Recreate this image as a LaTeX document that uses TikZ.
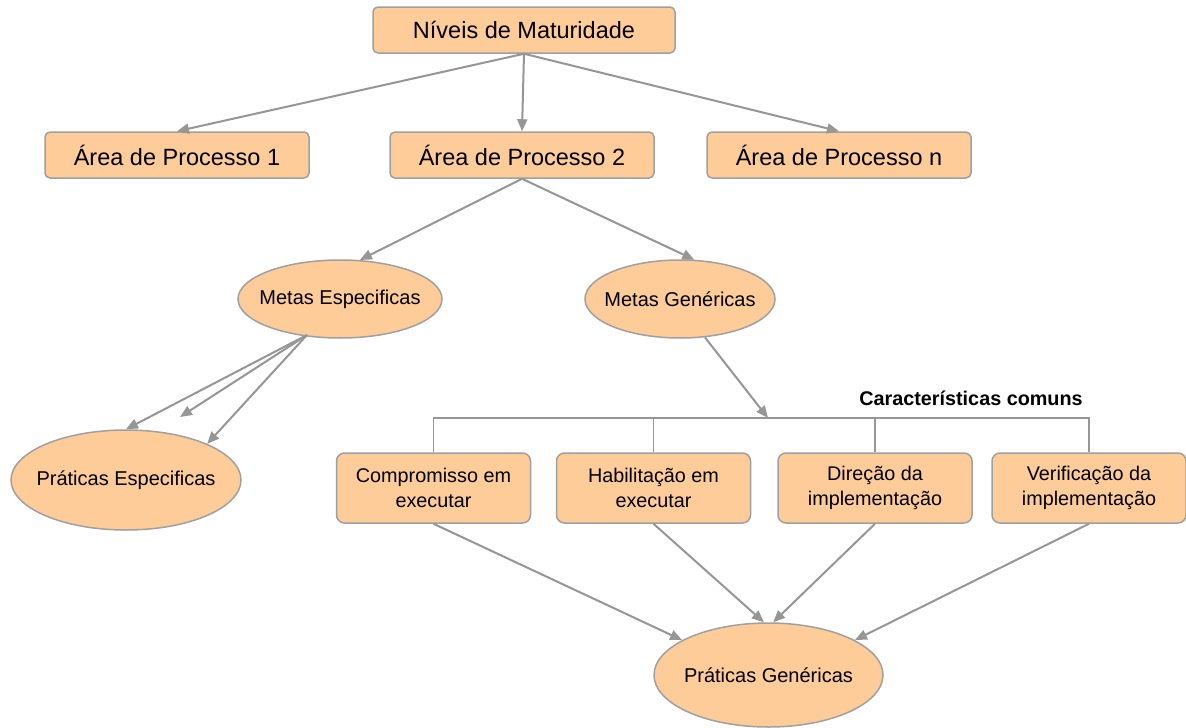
\documentclass[tikz,border=0pt]{standalone}
\usepackage{fontspec}
\setmainfont{Liberation Sans}
\usetikzlibrary{arrows.meta,shapes.geometric}
\definecolor{boxfill}{RGB}{253,204,153}
\definecolor{boxline}{RGB}{160,160,160}
\definecolor{arrowgray}{RGB}{150,150,150}
\tikzset{
  topbox/.style={draw=boxline, line width=1.5pt, fill=boxfill, rounded corners=5pt,
    minimum width=264pt, minimum height=46pt, inner sep=0pt,
    font=\fontsize{23.5}{28}\selectfont},
  ellbox/.style={ellipse, draw=boxline, line width=1.5pt, fill=boxfill,
    inner xsep=-20pt, inner ysep=0pt,
    font=\fontsize{20}{24}\selectfont},
  featbox/.style={draw=boxline, line width=1.5pt, fill=boxfill, rounded corners=8pt,
    minimum width=194pt, minimum height=70pt, inner sep=0pt, align=center,
    font=\fontsize{19.8}{25}\selectfont},
  conn/.style={draw=arrowgray, line width=2pt,
    -{Triangle[length=12pt,width=10pt]}},
  bracket/.style={draw=arrowgray, line width=1.5pt},
}
\begin{document}
\begin{tikzpicture}[x=1pt,y=-1pt]
\path[fill=white] (0,0) rectangle (1186,728);
\useasboundingbox (0,0) rectangle (1186,728);

\node[topbox, minimum width=302pt] (niv) at (524,30) {Níveis de Maturidade};
\node[topbox] (a1) at (177,155) {Área de Processo 1};
\node[topbox] (a2) at (522,155) {Área de Processo 2};
\node[topbox] (an) at (839,155) {Área de Processo n};

\node[ellbox, minimum width=204pt, minimum height=78pt] (me) at (340,299) {Metas Especificas};
\node[ellbox, minimum width=190pt, minimum height=78pt] (mg) at (680,299) {Metas Genéricas};
\node[ellbox, minimum width=230pt, minimum height=100pt] (pe) at (126,480) {Práticas Especificas};

\node[featbox] (c1) at (433.5,488) {Compromisso em\\executar};
\node[featbox] (c2) at (653.5,488) {Habilitação em\\executar};
\node[featbox] (c3) at (875,488) {Direção da\\implementação};
\node[featbox] (c4) at (1089,488) {Verificação da\\implementação};

\node[ellbox, minimum width=229pt, minimum height=104pt] (pg) at (768.5,675) {Práticas Genéricas};

\node[font=\fontsize{19.8}{24}\selectfont\bfseries] (lab) at (971,398) {Características comuns};

\coordinate (bar) at (768,418);
\coordinate (meo) at (307,335);
\coordinate (free) at (180,417);

% top level
\draw[conn] (niv.south) -- (a1.north);
\draw[conn] (niv.south) -- (a2.north);
\draw[conn] (niv.south) -- (an.north);
% process area 2
\draw[conn] (a2.south) -- (me.63);
\draw[conn] (a2.south) -- (mg.70);
% specific goals
\draw[conn] (meo) -- (pe.north);
\draw[conn] (meo) -- (free);
\draw[conn] (meo) -- (pe.24);
% generic goals to bracket
\draw[conn] (mg.-57) -- (bar);
% bracket
\draw[bracket] (c1.north) -- (c1.north |- bar) -- (c4.north |- bar) -- (c4.north);
\draw[bracket] (c2.north) -- (c2.north |- bar);
\draw[bracket] (c3.north) -- (c3.north |- bar);
% to generic practices
\draw[conn] (c1.south) -- (pg.158);
\draw[conn] (c2.south) -- (pg.95.5);
\draw[conn] (c3.south) -- (pg.85.6);
\draw[conn] (c4.south) -- (pg.22);
\end{tikzpicture}
\end{document}
